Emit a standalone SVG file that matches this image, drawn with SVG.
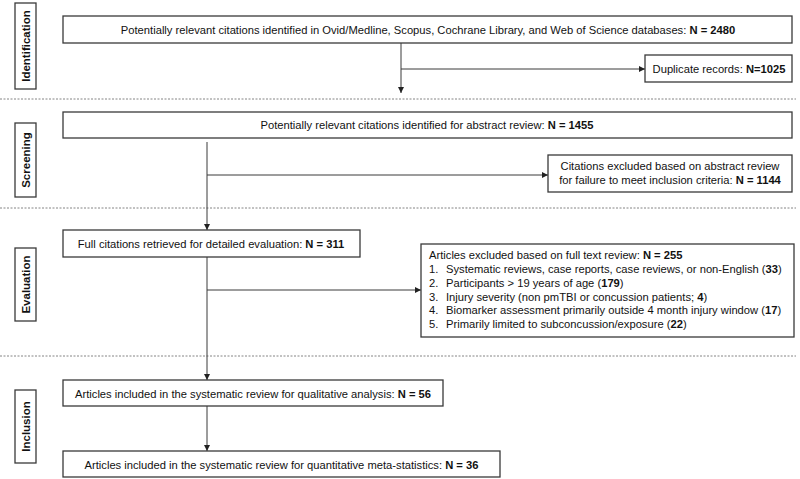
<svg xmlns="http://www.w3.org/2000/svg" width="800" height="479" viewBox="0 0 800 479">
<style>
.box{fill:#fff;stroke:#3a3a3a;stroke-width:1.3}
.side{fill:#fff;stroke:#3a3a3a;stroke-width:1.3}
.t{font-family:"Liberation Sans",Arial,sans-serif;font-size:11.2px;fill:#111}
.st{font-family:"Liberation Sans",Arial,sans-serif;font-size:11.5px;font-weight:bold;fill:#111}
.b{font-weight:bold}
.ln{stroke:#3a3a3a;stroke-width:1;fill:none}
.dash{stroke:#666;stroke-width:0.8;stroke-dasharray:2 1.5;fill:none}
</style>
<defs>
<marker id="ah" viewBox="0 0 10 10" refX="10" refY="5" markerWidth="6" markerHeight="6" markerUnits="userSpaceOnUse" orient="auto">
<path d="M0,0 L10,5 L0,10 z" fill="#222"/>
</marker>
</defs>
<rect width="800" height="479" fill="#fff"/>
<g id="phases">
<line class="dash" x1="0" y1="99" x2="796" y2="99"/>
<line class="dash" x1="0" y1="208" x2="796" y2="208"/>
<line class="dash" x1="0" y1="356" x2="796" y2="356"/>
</g>
<g id="side-identification"><rect class="side" x="15" y="3" width="21" height="86"/><text class="st" transform="translate(29.8,46) rotate(-90)" text-anchor="middle">Identification</text></g>
<g id="side-screening"><rect class="side" x="15" y="123" width="21" height="74"/><text class="st" transform="translate(29.8,160) rotate(-90)" text-anchor="middle">Screening</text></g>
<g id="side-evaluation"><rect class="side" x="15" y="248" width="21" height="73"/><text class="st" transform="translate(29.8,284.5) rotate(-90)" text-anchor="middle">Evaluation</text></g>
<g id="side-inclusion"><rect class="side" x="15" y="390" width="21" height="73"/><text class="st" transform="translate(29.8,426.5) rotate(-90)" text-anchor="middle">Inclusion</text></g>
<g id="connectors">
<line class="ln" x1="401" y1="43" x2="401" y2="93" marker-end="url(#ah)"/>
<line class="ln" x1="401" y1="69" x2="645" y2="69" marker-end="url(#ah)"/>
<line class="ln" x1="207" y1="142" x2="207" y2="230" marker-end="url(#ah)"/>
<line class="ln" x1="207" y1="175" x2="548" y2="175" marker-end="url(#ah)"/>
<line class="ln" x1="207" y1="257" x2="207" y2="380" marker-end="url(#ah)"/>
<line class="ln" x1="207" y1="290" x2="421" y2="290" marker-end="url(#ah)"/>
<line class="ln" x1="207" y1="406" x2="207" y2="451" marker-end="url(#ah)"/>
</g>
<g id="n-identified"><rect class="box" x="63" y="16" width="729" height="27"/><text class="t" x="428" y="33.5" text-anchor="middle">Potentially relevant citations identified in Ovid/Medline, Scopus, Cochrane Library, and Web of Science databases: <tspan class="b">N = 2480</tspan></text></g>
<g id="n-duplicates"><rect class="box" x="645" y="55" width="147" height="27"/><text class="t" x="719" y="72.5" text-anchor="middle">Duplicate records: <tspan class="b">N=1025</tspan></text></g>
<g id="n-abstract"><rect class="box" x="63" y="112" width="729" height="26"/><text class="t" x="427" y="129" text-anchor="middle">Potentially relevant citations identified for abstract review: <tspan class="b">N = 1455</tspan></text></g>
<g id="n-abstract-excluded"><rect class="box" x="548" y="155" width="244" height="37"/><text class="t" x="670" y="170" text-anchor="middle">Citations excluded  based on abstract review</text><text class="t" x="670" y="184" text-anchor="middle">for failure to meet inclusion criteria: <tspan class="b">N = 1144</tspan></text></g>
<g id="n-fulltext"><rect class="box" x="63" y="230" width="297" height="27"/><text class="t" x="211" y="247.5" text-anchor="middle">Full citations retrieved for detailed evaluation:  <tspan class="b">N = 311</tspan></text></g>
<g id="n-fulltext-excluded"><rect class="box" x="421" y="244" width="373" height="93"/>
<text class="t" x="429" y="259">Articles excluded based on full text review: <tspan class="b">N = 255</tspan></text>
<text class="t" x="429" y="273">1.</text><text class="t" x="446" y="273">Systematic reviews, case reports, case reviews, or non-English  (<tspan class="b">33</tspan>)</text>
<text class="t" x="429" y="287">2.</text><text class="t" x="446" y="287">Participants &gt; 19 years of age (<tspan class="b">179</tspan>)</text>
<text class="t" x="429" y="300.5">3.</text><text class="t" x="446" y="300.5">Injury  severity (non pmTBI or concussion patients; <tspan class="b">4</tspan>)</text>
<text class="t" x="429" y="314">4.</text><text class="t" x="446" y="314">Biomarker assessment primarily outside 4 month injury  window (<tspan class="b">17</tspan>)</text>
<text class="t" x="429" y="327.5">5.</text><text class="t" x="446" y="327.5">Primarily limited to subconcussion/exposure  (<tspan class="b">22</tspan>)</text>
</g>
<g id="n-qualitative"><rect class="box" x="63" y="380" width="380" height="26"/><text class="t" x="253" y="397.5" text-anchor="middle">Articles included in the systematic review for qualitative analysis: <tspan class="b">N = 56</tspan></text></g>
<g id="n-quantitative"><rect class="box" x="63" y="451" width="437" height="26"/><text class="t" x="281.5" y="468.5" text-anchor="middle">Articles included in the systematic review for quantitative meta-statistics: <tspan class="b">N = 36</tspan></text></g>
</svg>
